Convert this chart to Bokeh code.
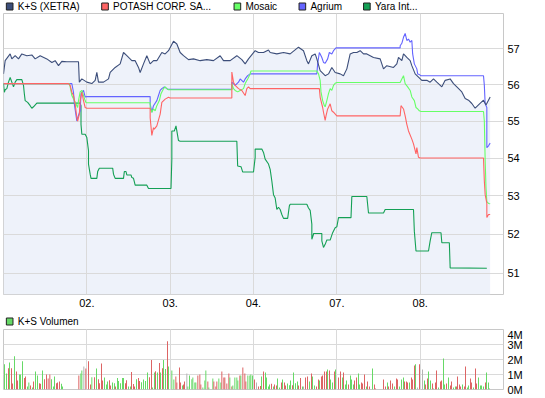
from bokeh.plotting import figure
from bokeh.models import (Range1d, FixedTicker, ColumnDataSource, BasicTickFormatter, Grid)
from bokeh.core.properties import value
from bokeh.layouts import column
from bokeh.transform import factor_cmap
from bokeh.embed import file_html
from bokeh.resources import INLINE

# ---------------- data ----------------
day_ticks = [1, 2, 3, 4, 5]
day_labels = ["02.", "03.", "04.", "07.", "08."]
price_ticks = [51, 52, 53, 54, 55, 56, 57]
vol_ticks = [0, 1, 2, 3, 4]
vol_labels = ["0M", "1M", "2M", "3M", "4M"]

ks_t = [0.00,0.02,0.08,0.10,0.14,0.18,0.22,0.28,0.34,0.38,
        0.44,0.52,0.58,0.62,0.66,0.70,0.76,0.90,0.91,0.94,
        1.00,1.06,1.10,1.12,1.14,1.20,1.26,1.28,1.34,1.40,
        1.44,1.48,1.54,1.58,1.62,1.64,1.68,1.72,1.76,1.80,
        1.84,1.90,1.94,1.98,2.04,2.08,2.12,2.16,2.22,2.28,
        2.36,2.44,2.52,2.60,2.64,2.72,2.80,2.86,2.90,2.94,
        3.02,3.06,3.12,3.18,3.20,3.28,3.36,3.44,3.54,3.60,
        3.64,3.66,3.70,3.74,3.76,3.80,3.86,3.90,3.94,3.98,
        4.04,4.08,4.12,4.16,4.20,4.24,4.28,4.32,4.36,4.44,
        4.52,4.56,4.60,4.68,4.72,4.74,4.78,4.80,4.84,4.88,
        4.90,4.94,4.98,5.02,5.08,5.12,5.16,5.20,5.26,5.30,
        5.36,5.40,5.44,5.50,5.54,5.58,5.62,5.66,5.70,5.76,
        5.79,5.84]
ks_v = [56.30,56.67,56.86,56.72,56.81,56.72,56.86,56.81,56.83,56.72,
        56.81,56.72,56.62,56.67,56.53,56.65,56.64,56.64,56.07,56.16,
        56.07,56.03,56.12,56.34,56.07,56.07,56.16,56.34,56.48,56.58,
        56.90,56.81,56.67,56.67,56.48,56.34,56.58,56.81,56.58,56.67,
        56.67,56.90,56.86,56.95,57.22,57.14,56.90,56.81,56.70,56.72,
        56.67,56.70,56.67,56.81,56.67,56.67,56.81,56.70,56.58,56.72,
        56.95,56.90,56.90,56.97,56.90,56.86,56.90,56.86,57.05,56.95,
        56.67,56.58,56.81,56.86,56.72,56.39,56.25,56.30,56.48,56.34,
        56.30,56.25,56.44,56.86,56.90,56.90,56.95,56.86,56.86,56.76,
        56.72,56.44,56.53,56.48,56.58,56.76,56.67,56.86,56.76,56.67,
        56.53,56.30,56.21,56.12,56.12,56.07,56.16,56.07,55.94,56.12,
        56.16,56.03,55.94,55.80,55.62,55.57,55.48,55.35,55.44,55.57,
        55.44,55.66]

pot_t = [0.00,0.78,0.80,0.82,0.84,0.86,0.88,0.89,0.91,0.92,
         0.94,0.96,0.98,1.00,1.76,1.76,1.78,1.80,1.81,1.84,
         1.85,1.88,1.90,1.94,1.98,2.00,2.74,2.74,2.76,2.78,
         2.82,2.86,2.90,2.92,2.94,2.96,3.79,3.80,3.83,3.84,
         3.86,3.87,3.89,3.92,3.94,3.96,4.00,4.76,4.77,4.80,
         4.82,4.84,4.86,4.90,4.92,4.95,4.96,4.98,5.00,5.76,
         5.77,5.78,5.80,5.80,5.82,5.84]
pot_v = [56.03,56.03,55.98,55.79,55.70,55.47,55.09,55.00,55.19,55.56,
         55.79,55.56,55.37,55.35,55.35,55.09,54.61,54.82,54.78,54.87,
         54.95,55.19,55.51,55.60,55.65,55.63,55.63,56.35,56.07,55.98,
         55.89,55.84,55.70,55.89,55.94,55.89,55.89,55.65,55.37,55.24,
         55.02,55.14,55.33,55.47,55.28,55.24,55.14,55.14,55.42,55.33,
         55.14,54.91,54.73,54.51,54.38,54.11,54.28,54.02,54.00,54.00,
         53.39,53.03,52.81,52.43,52.51,52.51]

mos_t = [0.00,0.79,0.80,0.82,0.85,0.88,0.89,0.90,0.92,0.94,
         0.96,0.98,0.99,1.00,1.76,1.76,1.78,1.80,1.82,1.84,
         1.87,1.89,1.92,1.94,1.96,1.98,2.74,2.74,2.76,2.78,
         2.81,2.84,2.88,2.90,2.93,2.96,2.97,3.76,3.78,3.80,
         3.81,3.83,3.85,3.86,3.88,3.90,3.92,3.94,3.96,3.98,
         4.00,4.76,4.78,4.80,4.82,4.85,4.88,4.90,4.93,4.95,
         4.97,4.99,5.01,5.76,5.77,5.78,5.79,5.80,5.82,5.84]
mos_v = [56.03,56.03,55.94,55.70,55.56,55.42,55.37,55.56,55.80,55.84,
         55.70,55.56,55.51,55.50,55.50,55.37,55.24,55.33,55.28,55.42,
         55.56,55.75,55.89,55.94,55.89,55.86,55.86,56.03,55.89,55.84,
         55.80,55.84,55.89,56.03,56.16,56.30,56.38,56.38,56.30,56.12,
         55.80,55.56,55.42,55.39,55.56,55.75,55.89,55.84,55.98,56.04,
         56.06,56.06,56.16,56.25,56.03,55.94,55.84,55.66,55.56,55.37,
         55.33,55.28,55.26,55.26,55.00,53.93,53.21,52.85,52.80,52.79]

agr_t = [0.00,0.82,0.84,0.85,0.88,0.89,0.92,0.93,0.96,0.97,
         0.98,1.00,1.76,1.76,1.78,1.80,1.84,1.86,1.88,1.90,
         1.93,1.96,1.97,2.74,2.74,2.78,2.82,2.84,2.88,2.90,
         2.93,2.96,3.00,3.76,3.77,3.79,3.80,3.82,3.84,3.86,
         3.89,3.91,3.94,3.96,3.99,4.76,4.76,4.78,4.80,4.82,
         4.84,4.86,4.88,4.90,4.91,4.93,4.96,4.97,4.99,5.01,
         5.76,5.77,5.78,5.80,5.80,5.82,5.84]
agr_v = [56.03,56.03,55.79,55.47,55.00,55.09,55.28,55.75,55.84,55.75,
         55.66,55.67,55.67,55.47,55.24,55.42,55.56,55.70,55.84,55.89,
         55.94,55.89,55.87,55.87,56.07,55.98,56.07,56.16,56.07,56.16,
         56.25,56.30,56.30,56.30,56.58,56.90,56.86,56.76,56.62,56.60,
         56.72,56.90,56.86,56.95,57.03,57.03,57.09,57.16,57.33,57.44,
         57.24,57.28,57.19,57.24,56.86,56.58,56.44,56.30,56.28,56.25,
         56.25,55.98,55.47,55.37,54.28,54.33,54.40]

yara_t = [0.00,0.01,0.02,0.04,0.06,0.08,0.10,0.12,0.14,0.16,
          0.22,0.24,0.25,0.26,0.29,0.32,0.34,0.36,0.40,0.92,
          0.93,0.93,0.94,0.98,1.00,1.02,1.02,1.04,1.05,1.12,
          1.13,1.15,1.31,1.32,1.34,1.44,1.45,1.47,1.48,1.53,
          1.54,1.56,1.58,1.72,1.74,2.01,2.02,2.02,2.05,2.07,
          2.08,2.10,2.12,2.80,2.81,2.85,2.87,3.00,3.02,3.02,
          3.10,3.12,3.14,3.18,3.20,3.22,3.24,3.26,3.28,3.30,
          3.32,3.34,3.36,3.41,3.43,3.44,3.64,3.66,3.68,3.70,
          3.70,3.72,3.72,3.82,3.82,3.84,3.86,3.88,3.92,3.95,
          3.98,4.00,4.02,4.17,4.18,4.36,4.38,4.56,4.58,4.92,
          4.93,4.95,5.10,5.12,5.14,5.25,5.26,5.35,5.36,5.80]
yara_v = [56.03,55.79,55.86,55.89,56.07,56.20,56.07,55.94,56.07,56.14,
          56.14,55.98,55.75,55.56,55.51,55.42,55.35,55.39,55.49,55.49,
          55.42,54.91,54.64,54.64,54.55,54.20,53.84,53.57,53.46,53.46,
          53.64,53.73,53.73,53.57,53.46,53.46,53.64,53.64,53.55,53.55,
          53.48,53.46,53.28,53.28,53.19,53.19,53.97,54.73,54.73,54.87,
          54.73,54.47,54.45,54.45,53.79,53.77,53.63,53.63,54.02,54.24,
          54.24,54.15,53.97,53.84,53.70,53.39,53.03,52.94,52.64,52.70,
          52.64,52.51,52.41,52.41,52.73,52.78,52.78,52.68,52.62,52.26,
          51.87,52.00,52.02,52.02,51.83,51.66,51.74,51.85,51.85,52.04,
          52.17,52.19,52.43,52.43,52.98,52.98,52.55,52.55,52.64,52.64,
          52.08,51.57,51.57,51.83,52.04,52.04,51.78,51.78,51.14,51.13]

# K+S volume in millions; direction u = up, d = down, n = unchanged
vol_t = [0.012,0.036,0.060,0.072,0.096,0.108,0.132,0.156,0.168,0.192,
         0.204,0.228,0.252,0.264,0.288,0.304,0.324,0.348,0.360,0.384,
         0.408,0.432,0.444,0.468,0.492,0.516,0.536,0.556,0.576,0.600,
         0.612,0.636,0.648,0.672,0.696,0.708,0.904,0.928,0.940,0.964,
         0.988,1.020,1.044,1.060,1.092,1.116,1.140,1.152,1.176,1.188,
         1.212,1.236,1.248,1.272,1.284,1.308,1.332,1.344,1.368,1.380,
         1.404,1.428,1.440,1.464,1.476,1.500,1.524,1.536,1.560,1.572,
         1.596,1.620,1.632,1.656,1.680,1.704,1.728,1.752,1.776,1.788,
         1.812,1.824,1.848,1.872,1.884,1.908,1.920,1.944,1.968,1.980,
         2.020,2.044,2.068,2.080,2.112,2.124,2.148,2.160,2.172,2.200,
         2.212,2.232,2.260,2.272,2.296,2.308,2.332,2.356,2.368,2.392,
         2.416,2.428,2.452,2.464,2.512,2.524,2.548,2.560,2.584,2.608,
         2.620,2.644,2.656,2.680,2.704,2.716,2.740,2.752,2.776,2.800,
         2.812,2.836,2.848,2.872,2.896,2.908,2.932,2.956,2.968,2.988,
         3.012,3.036,3.060,3.084,3.096,3.120,3.144,3.156,3.180,3.192,
         3.216,3.240,3.252,3.276,3.288,3.312,3.336,3.348,3.372,3.384,
         3.408,3.432,3.444,3.468,3.480,3.504,3.528,3.540,3.564,3.588,
         3.600,3.624,3.648,3.672,3.696,3.708,3.732,3.756,3.780,3.792,
         3.816,3.828,3.852,3.876,3.888,3.912,3.924,3.948,3.972,3.984,
         4.020,4.044,4.068,4.080,4.104,4.116,4.140,4.164,4.176,4.200,
         4.212,4.236,4.260,4.272,4.296,4.308,4.332,4.356,4.368,4.392,
         4.428,4.452,4.464,4.560,4.584,4.608,4.620,4.644,4.668,4.692,
         4.716,4.728,4.752,4.776,4.800,4.812,4.836,4.848,4.872,4.896,
         4.908,4.932,4.944,4.968,4.992,5.028,5.052,5.064,5.088,5.100,
         5.124,5.148,5.160,5.184,5.196,5.220,5.244,5.256,5.280,5.292,
         5.316,5.340,5.364,5.376,5.400,5.424,5.436,5.448,5.472,5.484,
         5.508,5.532,5.544,5.568,5.580,5.604,5.616,5.640,5.664,5.676,
         5.700,5.724,5.736,5.760,5.784,5.796,5.820,5.832]
vol_m = [1.69,1.07,1.42,1.80,1.42,0.40,2.22,1.20,0.60,1.00,
         1.00,1.89,0.76,0.87,0.20,0.47,0.27,0.13,0.53,1.20,
         0.93,0.42,0.38,1.27,0.69,1.00,0.73,1.00,0.69,0.20,
         0.87,0.42,0.47,0.53,0.38,0.20,0.93,1.07,1.27,1.53,
         1.40,1.89,0.33,0.82,0.82,1.40,0.69,0.42,1.73,0.60,
         0.80,0.33,0.53,0.62,0.27,0.47,0.42,0.20,0.76,0.56,
         0.42,0.76,0.76,0.42,0.62,0.20,0.20,1.16,0.36,0.20,
         0.69,0.76,0.56,0.49,0.67,0.56,1.13,0.82,1.96,0.13,
         1.13,1.22,1.13,1.76,1.13,1.42,1.96,1.36,3.22,1.53,
         1.27,0.67,0.87,0.47,1.47,0.47,0.27,0.33,0.53,1.07,
         0.20,0.93,0.69,0.80,0.47,0.47,0.93,1.00,0.33,0.13,
         0.60,1.27,0.53,0.13,0.73,0.53,0.20,0.53,0.73,0.47,
         1.20,0.80,0.80,0.40,1.07,0.80,0.20,0.27,0.80,0.80,
         0.60,0.93,0.93,1.47,1.07,0.53,0.93,0.93,1.00,0.93,
         0.67,0.47,0.20,0.24,0.87,1.20,1.13,0.80,0.20,0.33,
         0.38,0.20,0.33,0.27,0.73,0.13,0.47,0.67,0.47,0.27,
         0.40,0.29,0.60,0.29,1.13,0.42,0.53,0.27,0.76,0.20,
         0.20,0.80,0.87,0.53,1.07,0.87,0.27,0.20,0.67,0.60,
         0.87,0.93,1.20,1.20,1.33,1.27,0.67,0.47,1.20,1.33,
         0.80,1.20,0.80,1.13,0.33,0.60,0.33,0.93,0.67,0.33,
         0.60,0.80,1.07,0.33,0.47,0.40,1.00,0.20,0.53,0.20,
         1.40,0.33,0.07,0.67,0.20,0.47,0.20,0.60,0.40,0.20,
         0.73,0.67,0.20,0.67,0.80,0.53,0.53,0.47,0.47,0.80,
         0.67,1.60,1.69,0.13,1.69,1.33,0.60,0.33,0.73,1.20,
         0.60,0.40,0.07,0.47,1.27,0.13,0.53,0.60,2.07,0.33,
         0.40,0.80,0.27,0.53,0.13,0.20,0.20,0.87,0.33,0.20,
         0.33,0.20,1.53,0.13,0.27,0.73,0.47,0.13,1.40,0.40,
         0.80,0.27,0.27,0.20,0.47,1.13,0.47,0.07]
vol_dir = list("uududduddu" "uudduududu" "uddudddduu" "uddduuduun"
               "dddududddd" "uuudduuduu" "uuudduuddd" "udduuuuddu"
               "udududuudu" "uudddduddn" "uuuuuudddu" "uuduuddduu"
               "ddddduduuu" "ududdduuuu" "dndduduuuu" "dudduududd"
               "uuuduuuddu" "ndduduuddu" "dddduduudu" "dduduuduuu"
               "dduudddudd" "uddddudddu" "dduuudddud" "ddundnuddu"
               "ududdudduu" "dudduudddd" "udduuddudd" "uuuuduuu")

series_names = ["K+S (XETRA)", "POTASH CORP. SA...", "Mosaic", "Agrium", "Yara Int..."]
volume_name = "K+S Volumen"

# ---------------- style / layout ----------------
FONT = "Liberation Sans"
FW, FH_MAIN, FH_VOL = 500, 281, 60
BL, BR = 3, 24
TOTAL_W = BL + FW + BR
GRID = "#dadada"
OUTLINE = "#c8c8c8"
KS_COL, POT_COL, MOS_COL, AGR_COL, YARA_COL = "#3c4e7a", "#ff6464", "#66ff66", "#6464ff", "#14a055"
VOL_UP, VOL_DN, VOL_NC = "#66d966", "#dd6464", "#b4b4b4"
KEY_X = [3, 103.5, 243, 311.5, 379.5]   # key box left edges (px)

y_lo, y_hi = 50.47, 58.01


def style_axis(ax):
    ax.axis_line_color = None
    ax.major_tick_line_color = None
    ax.minor_tick_line_color = None
    ax.major_tick_out = 0
    ax.major_tick_in = 0
    ax.major_label_standoff = 4
    ax.major_label_text_font = FONT
    ax.major_label_text_font_size = "11px"
    ax.major_label_text_color = "#000000"


def key_strip(height, labels, colors, xs, yc):
    """A plain strip (1 unit = 1 px) holding colour keys and their names."""
    k = figure(width=TOTAL_W, height=height, min_border=0,
               x_range=Range1d(0, TOTAL_W), y_range=Range1d(height, 0),
               x_axis_location=None, y_axis_location=None,
               output_backend="svg", toolbar_location=None)
    k.grid.visible = False
    k.outline_line_color = None
    k.background_fill_color = "white"
    k.border_fill_color = "white"
    src = ColumnDataSource(dict(
        left=[x for x in xs], right=[x + 7 for x in xs],
        top=[yc - 3.5] * len(xs), bottom=[yc + 3.5] * len(xs),
        col=colors, tx=[x + 12 for x in xs], ty=[yc] * len(xs), lab=labels))
    k.quad(left="left", right="right", top="top", bottom="bottom", source=src,
           fill_color="col", line_color="#222222", line_width=1)
    k.text(x="tx", y="ty", text="lab", source=src, text_font=value(FONT),
           text_font_size="10px", text_baseline="middle", text_align="left",
           text_color="#000000")
    return k


header = key_strip(12, series_names, [KS_COL, POT_COL, MOS_COL, AGR_COL, YARA_COL], KEY_X, 6)

p = figure(frame_width=FW, frame_height=FH_MAIN,
           x_range=Range1d(0, 6), y_range=Range1d(y_lo, y_hi),
           y_axis_type="log", y_axis_location="right",
           output_backend="svg", toolbar_location=None,
           min_border_left=BL, min_border_right=BR, min_border_top=1, min_border_bottom=20)
p.outline_line_color = OUTLINE
p.background_fill_color = "white"
p.border_fill_color = "white"

p.xaxis.ticker = FixedTicker(ticks=day_ticks)
p.xaxis.major_label_overrides = dict(zip(day_ticks, day_labels))
p.yaxis.ticker = FixedTicker(ticks=price_ticks)
p.yaxis.formatter = BasicTickFormatter()
style_axis(p.xaxis[0])
style_axis(p.yaxis[0])
p.xgrid.ticker = FixedTicker(ticks=day_ticks)
p.ygrid.ticker = FixedTicker(ticks=price_ticks)
p.xgrid.grid_line_color = GRID
p.ygrid.grid_line_color = GRID

# K+S area below its line
p.varea(x=ks_t, y1=[y_lo] * len(ks_t), y2=ks_v, fill_color="#eef2fa", level="image")

p.line(yara_t, yara_v, line_color=YARA_COL, line_width=1.1)
p.line(agr_t, agr_v, line_color=AGR_COL, line_width=1.1)
p.line(mos_t, mos_v, line_color=MOS_COL, line_width=1.1)
p.line(pot_t, pot_v, line_color=POT_COL, line_width=1.1)
p.line(ks_t, ks_v, line_color=KS_COL, line_width=1.1)

vheader = key_strip(14, [volume_name], [VOL_UP], [3], 7)

pv = figure(frame_width=FW, frame_height=FH_VOL,
            x_range=p.x_range, y_range=Range1d(0, 4),
            x_axis_location=None, y_axis_location="right",
            output_backend="svg", toolbar_location=None,
            min_border_left=BL, min_border_right=BR, min_border_top=1, min_border_bottom=7)
pv.outline_line_color = OUTLINE
pv.background_fill_color = "white"
pv.border_fill_color = "white"
pv.yaxis.ticker = FixedTicker(ticks=vol_ticks)
pv.yaxis.major_label_overrides = dict(zip(vol_ticks, vol_labels))
style_axis(pv.yaxis[0])
pv.ygrid.ticker = FixedTicker(ticks=vol_ticks)
pv.ygrid.grid_line_color = GRID
pv.add_layout(Grid(dimension=0, ticker=FixedTicker(ticks=day_ticks), grid_line_color=GRID))

vsrc = ColumnDataSource(dict(t=vol_t, m=vol_m, d=vol_dir))
pv.vbar(x="t", top="m", width=0.012, source=vsrc, line_color=None,
        fill_color=factor_cmap("d", palette=[VOL_UP, VOL_DN, VOL_NC], factors=["u", "d", "n"]))

layout = column(header, p, vheader, pv, spacing=0)
open("out.html", "w").write(file_html(layout, INLINE))
